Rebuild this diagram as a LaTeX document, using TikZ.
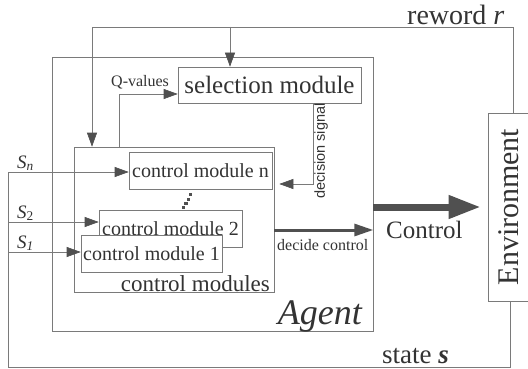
\documentclass[tikz,border=0pt]{standalone}
\usepackage{fontspec}
\setmainfont{Liberation Serif}
\newfontfamily\sansf{Liberation Sans}
\usetikzlibrary{arrows.meta,calc}
\definecolor{ln}{HTML}{7A7A7A}
\definecolor{ar}{HTML}{505050}
\definecolor{tx}{HTML}{333333}
\begin{document}
\begin{tikzpicture}[x=1pt,y=-1pt,
  box/.style={draw=ln, line width=0.6pt, fill=white, inner sep=0pt, text=tx},
  wire/.style={draw=ln, line width=0.6pt},
  arr/.style={wire, -{Triangle[length=14pt,width=10pt,color=ar]}},
  lab/.style={text=tx, inner sep=0pt},
  modfont/.style={font=\fontsize{20}{24}\selectfont},
  slab/.style={lab, anchor=base west, font=\fontsize{19}{22}\selectfont},
]
\useasboundingbox (0,0) rectangle (528,369);
\fill[white] (0,0) rectangle (528,369);

% outer boxes
\node[box, minimum width=321pt, minimum height=274pt] (agent) at (212.5,194) {};
\node[box, minimum width=200pt, minimum height=145pt] (cms) at (174,219.5) {};
\node[box, minimum width=41pt, minimum height=188pt] (env) at (508.5,207) {};

% inner modules
\node[box, minimum width=183pt, minimum height=36pt, font=\fontsize{25}{30}\selectfont] (sel) at (269.5,85) {selection module};
\node[box, minimum width=143pt, minimum height=37pt, modfont] (ctrln) at (200.5,170.5) {control module n};
\node[box, minimum width=143pt, minimum height=37pt, modfont] (ctrl2) at (170.5,228.5) {control module 2};
\node[box, minimum width=141pt, minimum height=37pt, modfont] (ctrl1) at (151.5,253.5) {control module 1};

\node[lab, rotate=90, font=\fontsize{30}{34}\selectfont] (envlab) at (env.center) {Environment};

% reward path
\coordinate (rt) at (513,27);
\coordinate (rl) at (92,27);
\coordinate (rs) at (230,27);
\draw[arr] (env.north -| rt) -- (rt) -- (rl) -- (rl |- cms.north);
\draw[arr] (rs) -- (rs |- sel.north);

% state path
\coordinate (sb) at (510,367);
\coordinate (sl) at (8,367);
\coordinate (sn) at (8,172);
\coordinate (s2) at (8,222);
\coordinate (s1) at (8,252);
\draw[arr] (env.south -| sb) -- (sb) -- (sl) -- (sn) -- (sn -| ctrln.west);
\draw[arr] (s2) -- (s2 -| ctrl2.west);
\draw[arr] (s1) -- (s1 -| ctrl1.west);

% Q-values
\coordinate (q) at (119,94);
\draw[arr] (q |- cms.north) -- (q) -- (q -| sel.west);

% decision signal
\coordinate (d) at (313,184);
\draw[arr, shorten >=5pt] (d |- sel.south) -- (d) -- (d -| cms.east);

% decide control
\coordinate (dc) at (0,230);
\draw[draw=ar, line width=3pt, -{Triangle[length=19pt,width=12pt]}] (dc -| cms.east) -- (dc -| agent.east);

% Control
\coordinate (ct) at (0,207);
\draw[draw=ar, line width=7pt, -{Triangle[length=32pt,width=22pt]}, shorten >=7pt] (ct -| agent.east) -- (ct -| env.west);

% dots
\foreach \p in {(183.3,207.7),(186,203.3),(188.4,199.2),(190.8,194.3)}
  \fill[ar] \p ++(-1.6,-1.6) rectangle ++(3.2,3.2);

% labels
\node[lab, anchor=base west, font=\fontsize{16}{18}\selectfont] (qlab) at (111,87) {Q-values};
\node[lab, anchor=base west, font=\fontsize{16}{18}\selectfont] (dclab) at (277,250) {decide control};
\node[lab, rotate=90, font=\sansf\fontsize{14.5}{17}\selectfont] (dslab) at (321,151) {decision signal};
\node[lab, anchor=base west, font=\fontsize{25}{30}\selectfont] (ctlab) at (386,238) {Control};
\node[lab, anchor=base east, font=\fontsize{23}{28}\selectfont] (cmlab) at (270,291) {control modules};
\node[lab, anchor=base east, font=\itshape\fontsize{36}{40}\selectfont] (aglab) at (362,324) {Agent};
\node[lab, anchor=base west, font=\fontsize{27}{30}\selectfont] (stlab) at (382,363) {state \textbf{\textit{s}}};
\node[lab, anchor=base west, font=\fontsize{28}{30}\selectfont] (rwlab) at (407,25) {reword \textit{r}};
\node[slab] (snlab) at (17,168) {\textit{S}\textsubscript{\textit{n}}};
\node[slab] (s2lab) at (17,218) {\textit{S}\textsubscript{2}};
\node[slab] (s1lab) at (17,248) {\textit{S}\textsubscript{\textit{1}}};
\end{tikzpicture}
\end{document}
